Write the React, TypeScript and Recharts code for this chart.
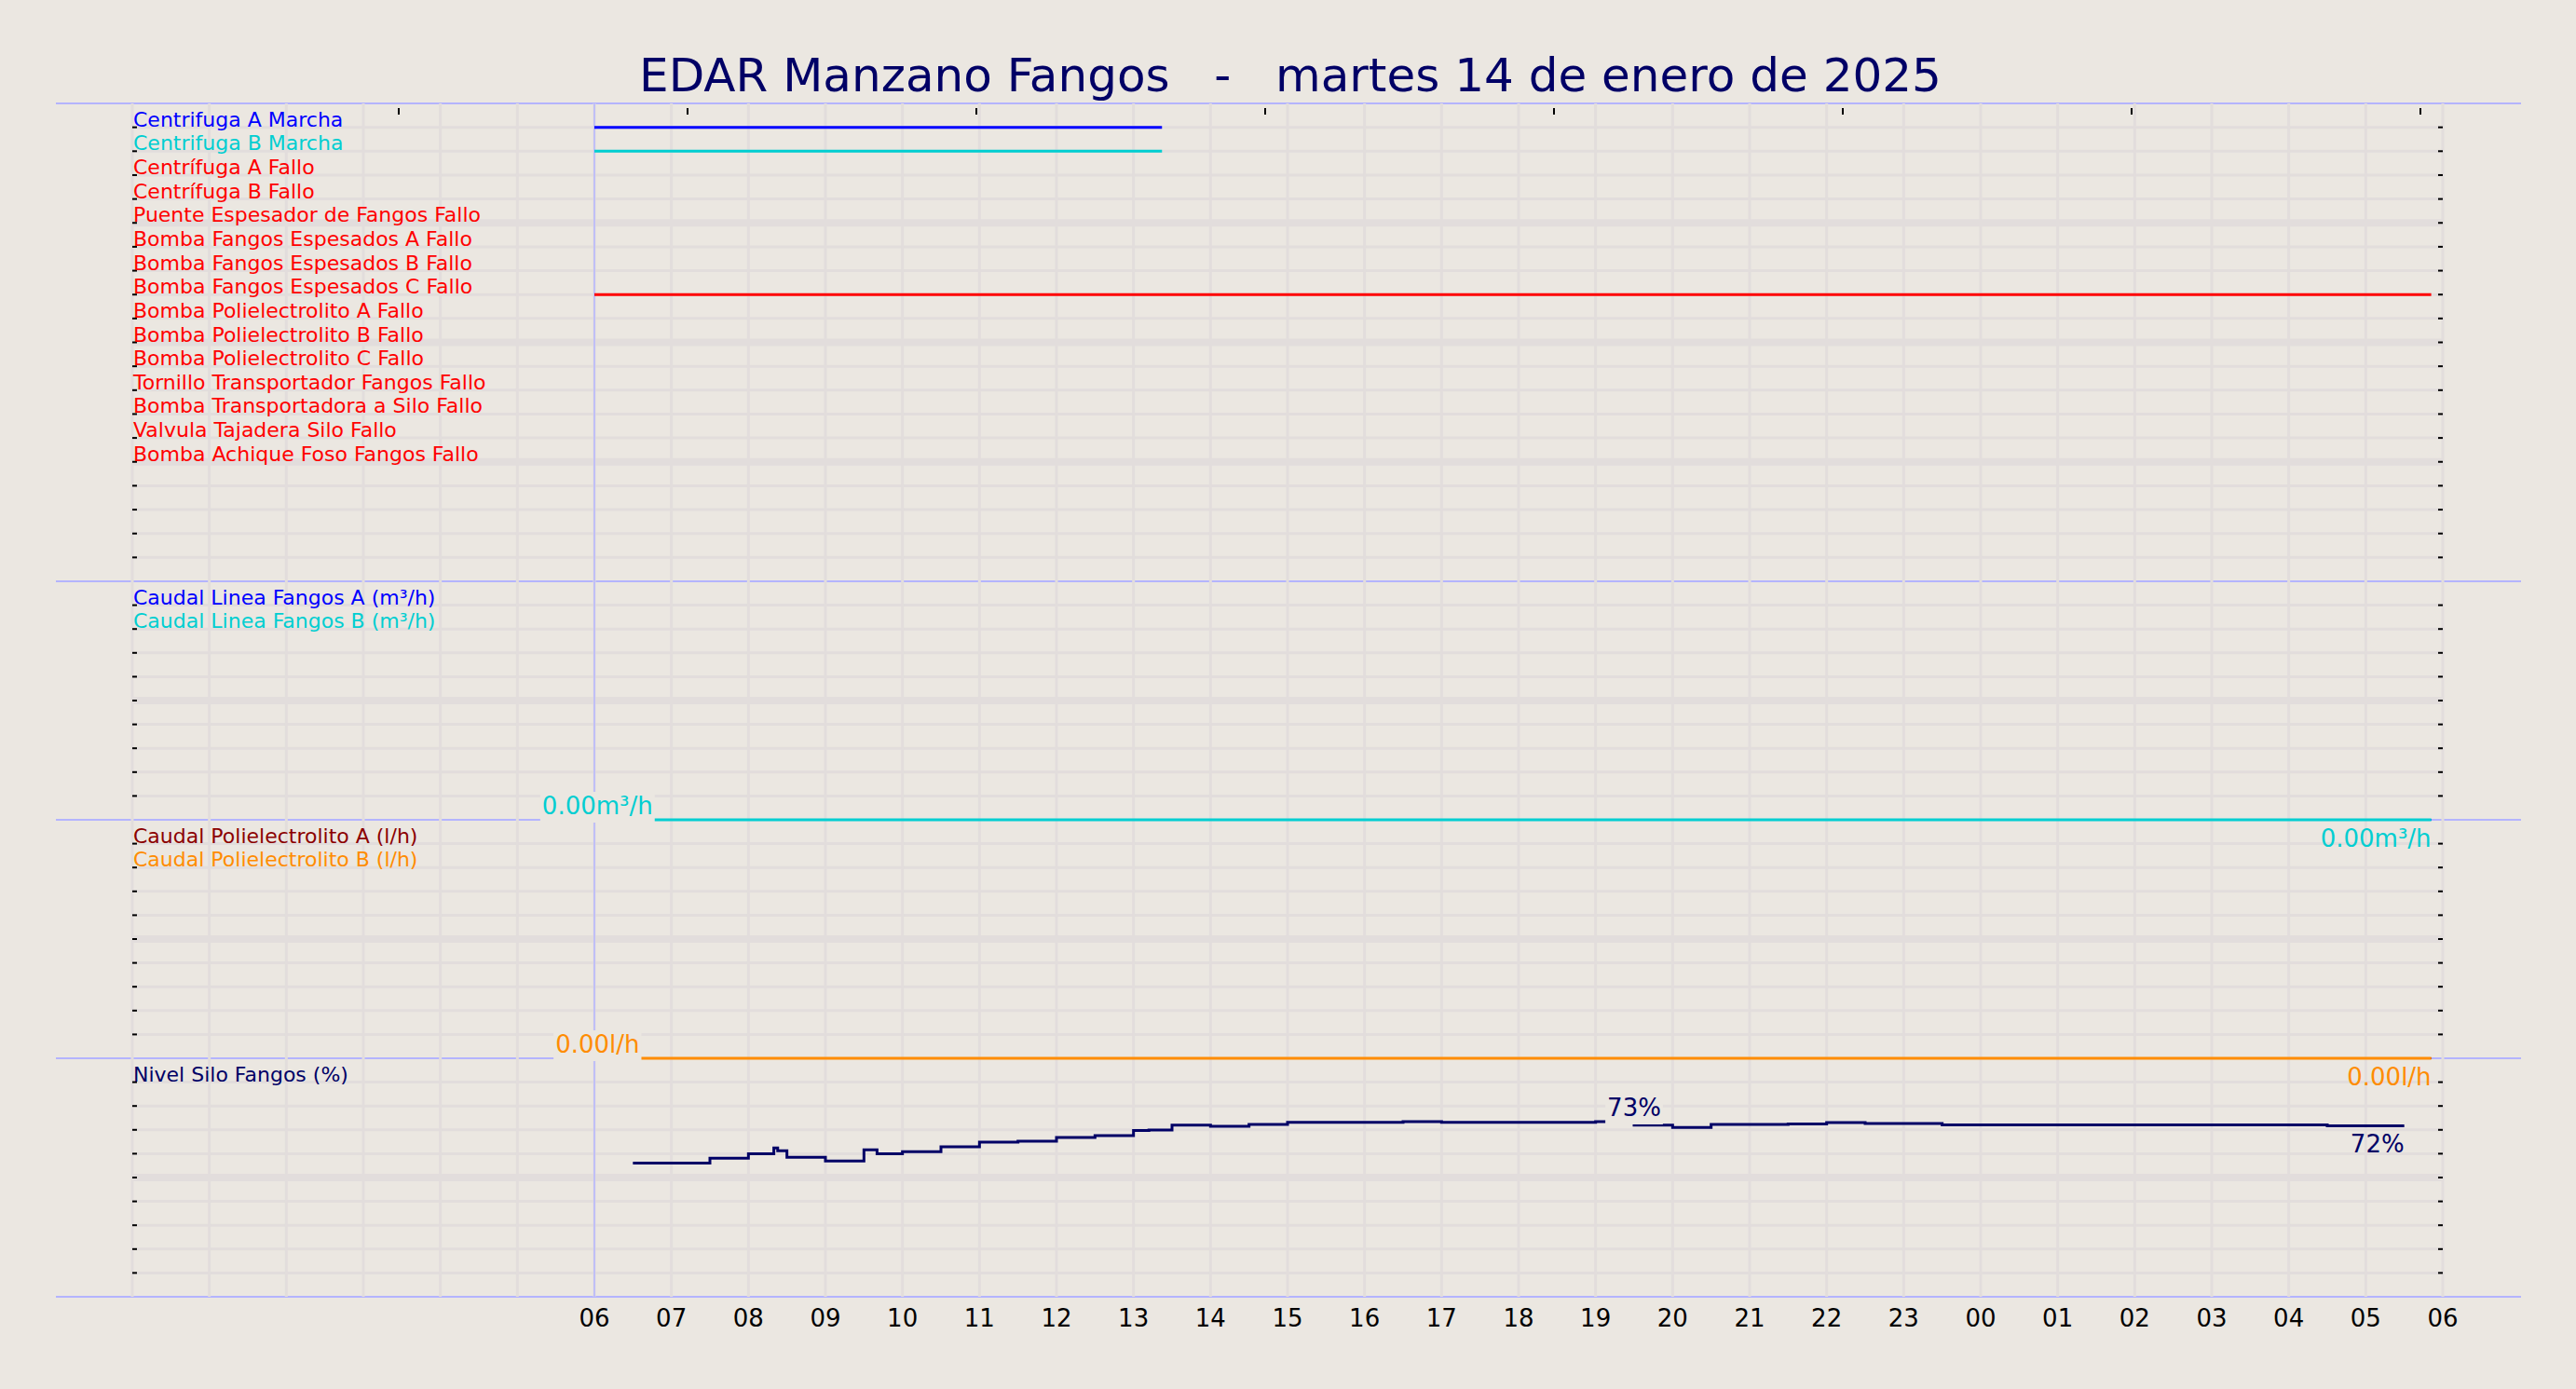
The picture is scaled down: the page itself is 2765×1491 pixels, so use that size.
import React from 'react';
import { LineChart, Line, XAxis, YAxis, CartesianGrid, ReferenceLine, ReferenceDot } from 'recharts';

const FONT = '"DejaVu Sans", Verdana, sans-serif';
const BG = '#ebe7e1';
const GRID = '#e2dddc';
const SEP = '#b4b4ff';
const NAVY = '#000066';

const W = 2765;
const LEFT = 142;
const RIGHT = 143;
const PX_PER_HOUR = (W - LEFT - RIGHT) / 30;

const title = 'EDAR Manzano Fangos   -   martes 14 de enero de 2025';

// hours counted from 00:00 of the day, 30 = 06:00 of the next day
const hourTicks = [0, 1, 2, 3, 4, 5, 6, 7, 8, 9, 10, 11, 12, 13, 14, 15, 16, 17, 18, 19, 20, 21, 22, 23, 24, 25, 26, 27, 28, 29, 30];
const topTicks = [3.46, 7.21, 10.96, 14.71, 18.46, 22.21, 25.96, 29.71];

const signalNames = [
  'Centrifuga A Marcha',
  'Centrifuga B Marcha',
  'Centrífuga A Fallo',
  'Centrífuga B Fallo',
  'Puente Espesador de Fangos Fallo',
  'Bomba Fangos Espesados A Fallo',
  'Bomba Fangos Espesados B Fallo',
  'Bomba Fangos Espesados C Fallo',
  'Bomba Polielectrolito A Fallo',
  'Bomba Polielectrolito B Fallo',
  'Bomba Polielectrolito C Fallo',
  'Tornillo Transportador Fangos Fallo',
  'Bomba Transportadora a Silo Fallo',
  'Valvula Tajadera Silo Fallo',
  'Bomba Achique Foso Fangos Fallo',
];
// [start, end] hours when each signal is active
const signalOn: number[][][] = [
  [[6, 13.37]],
  [[6, 13.37]],
  [],
  [],
  [],
  [],
  [],
  [[6, 29.85]],
  [],
  [],
  [],
  [],
  [],
  [],
  [],
];
const signalColors = ['#0000ff', '#00ced1', '#ff0000', '#ff0000', '#ff0000', '#ff0000', '#ff0000', '#ff0000', '#ff0000', '#ff0000', '#ff0000', '#ff0000', '#ff0000', '#ff0000', '#ff0000'];

const caudalNames = ['Caudal Linea Fangos A (m³/h)', 'Caudal Linea Fangos B (m³/h)'];
const caudalHours = [6.04, 29.85];
const caudalA = [0, 0];
const caudalB = [0, 0];

const poliNames = ['Caudal Polielectrolito A (l/h)', 'Caudal Polielectrolito B (l/h)'];
const poliHours = [6.04, 29.85];
const poliA = [0, 0];
const poliB = [0, 0];

const siloName = 'Nivel Silo Fangos (%)';
const siloHours = [6.5, 7, 7.5, 8, 8.33, 8.38, 8.5, 9, 9.5, 9.67, 10, 10.5, 11, 11.5, 12, 12.5, 13, 13.2, 13.5, 14, 14.5, 15, 15.5, 16, 16.5, 17, 17.5, 18, 18.5, 19, 19.5, 20, 20.5, 21, 21.5, 22, 22.5, 23, 23.5, 24, 24.5, 25, 25.5, 26, 26.5, 27, 27.5, 28, 28.5, 29, 29.5];
const siloLevel = [56.1, 56.1, 56.1, 58.1, 60.0, 62.4, 61.2, 58.5, 56.9, 61.6, 60.0, 60.8, 62.9, 64.8, 65.2, 66.8, 67.6, 69.7, 69.9, 72.0, 71.5, 72.3, 73.1, 73.1, 73.1, 73.4, 73.1, 73.1, 73.1, 73.1, 73.45, 72.0, 71.0, 72.3, 72.3, 72.5, 73.0, 72.7, 72.7, 72.1, 72.1, 72.1, 72.1, 72.1, 72.1, 72.1, 72.1, 72.1, 72.1, 71.7, 71.7];

const CW: Record<string, number> = { '0': 0.636, '1': 0.636, '2': 0.636, '3': 0.636, '4': 0.636, '5': 0.636, '6': 0.636, '7': 0.636, '8': 0.636, '9': 0.636, '.': 0.318, m: 0.974, '³': 0.401, '/': 0.337, h: 0.634, l: 0.278, '%': 0.95 };
const textWidth = (s: string, size: number) => s.split('').reduce((a, c) => a + (CW[c] ?? 0.6), 0) * size;

const ticksTo = (max: number, step: number) => Array.from({ length: Math.round(max / step) + 1 }, (_, i) => i * step);
const pad = (h: number) => String(h % 24).padStart(2, '0');
const blank = () => '';

const series = (hours: number[], vals: number[]) => hours.map((t, i) => ({ t, v: vals[i] }));

const nameLabel = (name: string, level: number, color: string) => (
  <ReferenceDot
    key={name}
    x={0}
    y={level}
    r={0}
    ifOverflow="visible"
    shape={(p: any) => (
      <text x={p.cx + 1} y={p.cy - 1} fill={color} fontSize={22} fontFamily={FONT}>{name}</text>
    )}
  />
);

const boxLabel = (key: string, x: number, y: number, text: string, color: string) => (
  <ReferenceDot
    key={key}
    x={x}
    y={y}
    r={0}
    ifOverflow="visible"
    shape={(p: any) => {
      const w = textWidth(text, 26) + 4;
      return (
        <g>
          <rect x={p.cx - w / 2} y={p.cy - 30} width={w} height={33} fill={BG} />
          <text x={p.cx} y={p.cy - 6} textAnchor="middle" fill={color} fontSize={26} fontFamily={FONT}>{text}</text>
        </g>
      );
    }}
  />
);

const endLabel = (key: string, x: number, y: number, text: string, color: string) => (
  <ReferenceDot
    key={key}
    x={x}
    y={y}
    r={0}
    ifOverflow="visible"
    shape={(p: any) => (
      <text x={p.cx} y={p.cy + 29} textAnchor="end" fill={color} fontSize={26} fontFamily={FONT}>{text}</text>
    )}
  />
);

function Panel(props: any) {
  const { top, plotH, yMax, yStep, thick, z, hourLabels = false, topMarks = false, children } = props;
  const mTop = 40;
  const mBottom = hourLabels ? 0 : 40;
  const xH = hourLabels ? 60 : 0;
  const yt = ticksTo(yMax, yStep);
  const inner = yt.slice(1, -1);
  const perPx = yMax / plotH;
  const tickLen = 5 / PX_PER_HOUR;
  return (
    <div style={{ position: 'absolute', left: 0, top: top - mTop, zIndex: z }}>
      <LineChart width={W} height={mTop + plotH + mBottom + xH} margin={{ top: mTop, right: RIGHT, bottom: mBottom, left: LEFT }}>
        <CartesianGrid stroke={GRID} strokeWidth={3} horizontalValues={inner} verticalValues={hourTicks} />
        {thick.map((v: number) => (
          <ReferenceLine key={'thick' + v} y={v} stroke={GRID} strokeWidth={8} />
        ))}
        <ReferenceLine x={6} stroke={SEP} strokeWidth={1.5} />
        {hourLabels ? (
          <XAxis
            dataKey="t"
            type="number"
            domain={[0, 30]}
            ticks={hourTicks}
            interval={0}
            allowDataOverflow
            height={xH}
            tickSize={0}
            tickMargin={14}
            axisLine={false}
            tickLine={false}
            tick={{ fill: '#000', fontSize: 26, fontFamily: FONT }}
            tickFormatter={(h: number) => (h < 6 ? '' : pad(h))}
          />
        ) : (
          <XAxis
            dataKey="t"
            type="number"
            domain={[0, 30]}
            ticks={hourTicks}
            interval={0}
            allowDataOverflow
            mirror
            height={2}
            axisLine={false}
            tickLine={false}
            tick={{ fontSize: 1 }}
            tickFormatter={blank}
          />
        )}
        <YAxis
          domain={[0, yMax]}
          ticks={inner}
          interval={0}
          mirror
          tickSize={5}
          axisLine={false}
          tick={{ fontSize: 1 }}
          tickFormatter={blank}
          stroke="#000"
          tickLine={{ stroke: '#000', strokeWidth: 2 }}
        />
        {inner.map((v) => (
          <ReferenceLine
            key={'rt' + v}
            segment={[{ x: 30 - tickLen, y: v }, { x: 30, y: v }]}
            stroke="#000"
            strokeWidth={2}
            ifOverflow="visible"
          />
        ))}
        {topMarks &&
          topTicks.map((t) => (
            <ReferenceLine
              key={'tt' + t}
              segment={[{ x: t, y: yMax - 5 * perPx }, { x: t, y: yMax - 12 * perPx }]}
              stroke="#000"
              strokeWidth={2}
              ifOverflow="visible"
            />
          ))}
        {children}
      </LineChart>
    </div>
  );
}

const separators = [111, 624, 880, 1136, 1392];

export default function App() {
  const silo = series(siloHours, siloLevel);
  const maxIdx = siloLevel.reduce((m, v, i) => (v > siloLevel[m] ? i : m), 0);
  const lastIdx = siloLevel.length - 1;
  const cLast = caudalHours.length - 1;
  const pLast = poliHours.length - 1;

  return (
    <div style={{ position: 'absolute', left: 0, top: 0, width: W, height: 1491, background: BG, overflow: 'hidden', fontFamily: FONT }}>
      {separators.map((y) => (
        <div key={y} style={{ position: 'absolute', left: 60, top: y - 1, width: 2706 - 60, height: 2, background: SEP, zIndex: 0 }} />
      ))}

      <svg width={W} height={110} style={{ position: 'absolute', left: 0, top: 0, zIndex: 10 }}>
        <text x={1385} y={98} textAnchor="middle" fill={NAVY} fontSize={50} fontFamily={FONT} style={{ whiteSpace: 'pre' }}>
          {title}
        </text>
      </svg>

      <Panel top={111} plotH={513} yMax={20} yStep={1} thick={[5, 10, 15]} z={4} topMarks>
        {signalNames.flatMap((name, i) => {
          const level = 19 - i;
          const data = signalOn[i].flatMap(([a, b]) => [
            { t: a, v: level },
            { t: b, v: level },
            { t: b, v: null },
          ]);
          const out = [];
          if (data.length) {
            out.push(
              <Line key={'l' + i} data={data} dataKey="v" type="linear" stroke={signalColors[i]} strokeWidth={3} dot={false} isAnimationActive={false} connectNulls={false} />
            );
          }
          out.push(nameLabel(name, level, signalColors[i]));
          return out;
        })}
      </Panel>

      <Panel top={624} plotH={256} yMax={10} yStep={1} thick={[5]} z={3}>
        <Line data={series(caudalHours, caudalA)} dataKey="v" stroke="#0000ff" strokeWidth={2} dot={false} isAnimationActive={false} />
        <Line data={series(caudalHours, caudalB)} dataKey="v" stroke="#00ced1" strokeWidth={3} dot={false} isAnimationActive={false} />
        {nameLabel(caudalNames[0], 9, '#0000ff')}
        {nameLabel(caudalNames[1], 8, '#00ced1')}
        {boxLabel('cs', caudalHours[0], caudalB[0], caudalB[0].toFixed(2) + 'm³/h', '#00ced1')}
        {endLabel('ce', caudalHours[cLast], caudalB[cLast], caudalB[cLast].toFixed(2) + 'm³/h', '#00ced1')}
      </Panel>

      <Panel top={880} plotH={256} yMax={10} yStep={1} thick={[5]} z={2}>
        <Line data={series(poliHours, poliA)} dataKey="v" stroke="#8b0000" strokeWidth={2} dot={false} isAnimationActive={false} />
        <Line data={series(poliHours, poliB)} dataKey="v" stroke="#ff8c00" strokeWidth={3} dot={false} isAnimationActive={false} />
        {nameLabel(poliNames[0], 9, '#8b0000')}
        {nameLabel(poliNames[1], 8, '#ff8c00')}
        {boxLabel('ps', poliHours[0], poliB[0], poliB[0].toFixed(2) + 'l/h', '#ff8c00')}
        {endLabel('pe', poliHours[pLast], poliB[pLast], poliB[pLast].toFixed(2) + 'l/h', '#ff8c00')}
      </Panel>

      <Panel top={1136} plotH={256} yMax={100} yStep={10} thick={[50]} z={1} hourLabels>
        <Line data={silo} dataKey="v" type="stepBefore" stroke={NAVY} strokeWidth={3} dot={false} isAnimationActive={false} />
        {nameLabel(siloName, 90, NAVY)}
        {boxLabel('smax', siloHours[maxIdx], siloLevel[maxIdx], Math.round(siloLevel[maxIdx]) + '%', NAVY)}
        {endLabel('send', siloHours[lastIdx], siloLevel[lastIdx], Math.round(siloLevel[lastIdx]) + '%', NAVY)}
      </Panel>
    </div>
  );
}
